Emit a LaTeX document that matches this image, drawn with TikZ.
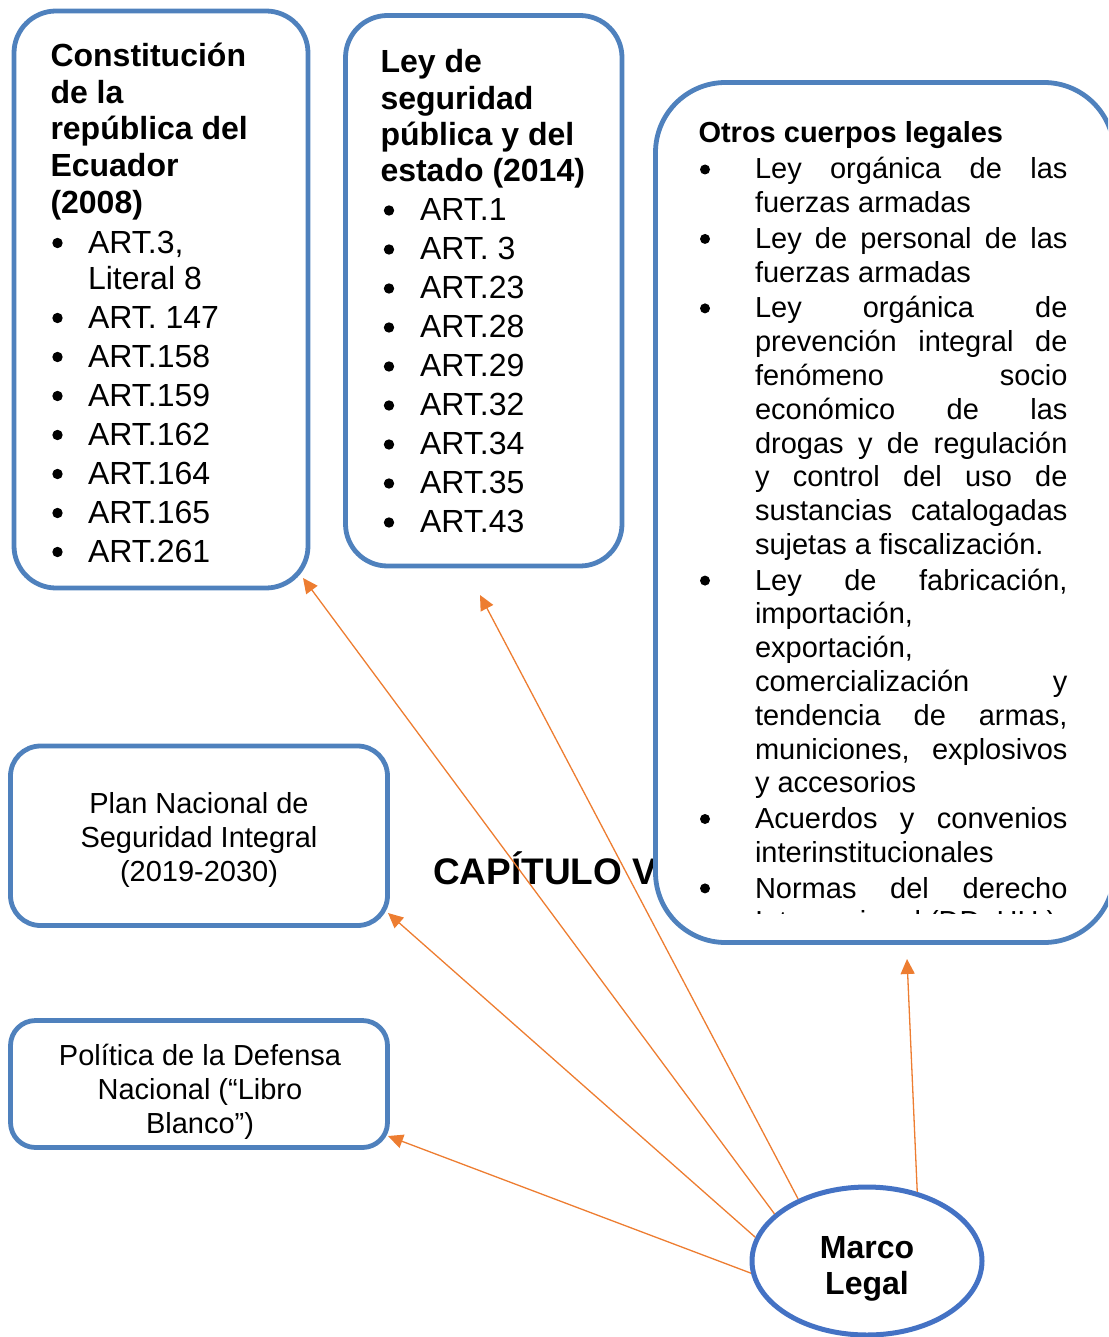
\documentclass[tikz,border=0pt]{standalone}
\usepackage{fontspec}
\setmainfont{Liberation Sans}
\usetikzlibrary{arrows.meta,shapes.geometric}
\definecolor{boxblue}{RGB}{79,129,189}
\definecolor{ellblue}{RGB}{68,114,196}
\definecolor{arrorange}{RGB}{237,125,49}
\newcommand\J[1]{\makebox[312.5pt][s]{#1}}
\tikzset{
  bx/.style={rectangle, draw=boxblue, line width=4.8pt, fill=white, rounded corners=#1, inner sep=0pt, outer sep=0pt},
  txt/.style={inner sep=0pt, outer sep=0pt, anchor=base west},
  ctxt/.style={inner sep=0pt, outer sep=0pt, anchor=base},
  arr/.style={draw=arrorange, line width=1.3pt, -{Triangle[length=15pt,width=14pt]}},
  bul/.style={fill=black},
}
\begin{document}
\begin{tikzpicture}[x=1pt,y=-1pt]
\useasboundingbox (0,0) rectangle (1108,1337);
\clip (0,0) rectangle (1108,1337);

% heading partly hidden
\node[txt] (cap) at (433,884) {\fontsize{37}{42}\selectfont\bfseries CAPÍTULO V};

% boxes
\node[bx=42pt, minimum width=294pt, minimum height=577pt] (cons) at (161,299.5) {};
\node[bx=42pt, minimum width=276.5pt, minimum height=550.5pt] (ley) at (483.75,290.75) {};
\node[bx=70pt, minimum width=458.5pt, minimum height=860pt] (otros) at (884.75,512.5) {};
\node[bx=30pt, minimum width=377pt, minimum height=179.5pt] (plan) at (199,835.75) {};
\node[bx=25pt, minimum width=377pt, minimum height=127pt] (pol) at (199,1084) {};

% Constitucion box text
\node[txt] (consT) at (50.5,66.5) {\parbox[t]{250pt}{\raggedright\fontsize{32}{36.75}\selectfont\bfseries Constitución\\de la\\república del\\Ecuador\\(2008)}};
\node[txt] (consI) at (88,253.5) {\parbox[t]{215pt}{\raggedright\fontsize{32}{36}\selectfont ART.3,\\Literal 8\\[3pt]ART. 147\\[3pt]ART.158\\[3pt]ART.159\\[3pt]ART.162\\[3pt]ART.164\\[3pt]ART.165\\[3pt]ART.261}};
\foreach \b in {253.5,328.5,367.5,406.5,445.5,484.5,523.5,562.5}
  \fill[bul] (57.5,\b-10.5) circle (5.2pt);

% Ley box text
\node[txt] (leyT) at (380.5,73) {\parbox[t]{235pt}{\raggedright\fontsize{32}{36.33}\selectfont\bfseries Ley de\\seguridad\\pública y del\\estado (2014)}};
\node[txt] (leyI) at (420,221) {\parbox[t]{195pt}{\raggedright\fontsize{32}{39}\selectfont ART.1\\ART. 3\\ART.23\\ART.28\\ART.29\\ART.32\\ART.34\\ART.35\\ART.43}};
\foreach \i in {0,...,8}
  \fill[bul] (389,221+39*\i-10.5) circle (5.2pt);

% Otros box text
\node[txt] (otrosT) at (698.5,143) {\fontsize{29}{34}\selectfont\bfseries Otros cuerpos legales};
\begin{scope}
\clip (650,0) rectangle (1120,913);
\node[txt] (otrosI) at (755,179) {\parbox[t]{320pt}{\fontsize{29}{33.8}\selectfont
\J{Ley orgánica de las}\\
fuerzas armadas\\[1.84pt]
\J{Ley de personal de las}\\
fuerzas armadas\\[1.84pt]
\J{Ley orgánica de}\\
\J{prevención integral de}\\
\J{fenómeno socio}\\
\J{económico de las}\\
\J{drogas y de regulación}\\
\J{y control del uso de}\\
\J{sustancias catalogadas}\\
sujetas a fiscalización.\\[1.84pt]
\J{Ley de fabricación,}\\
importación,\\
exportación,\\
\J{comercialización y}\\
\J{tendencia de armas,}\\
\J{municiones, explosivos}\\
y accesorios\\[1.84pt]
\J{Acuerdos y convenios}\\
interinstitucionales\\[1.84pt]
\J{Normas del derecho}\\
Internacional (DD. HH.)}};
\foreach \b in {179,248.44,317.88,590.1,828.5,897.9}
  \fill[bul] (705,\b-9.5) circle (5pt);
\end{scope}

% Plan and Politica text
\node[ctxt] (planT) at (199,813) {\parbox[t]{370pt}{\centering\fontsize{29}{34}\selectfont Plan Nacional de\\Seguridad Integral\\(2019-2030)}};
\node[ctxt] (polT) at (200,1065) {\parbox[t]{370pt}{\centering\fontsize{29}{34}\selectfont Política de la Defensa\\Nacional (“Libro\\Blanco”)}};

% Marco Legal ellipse
\node[ellipse, draw=ellblue, line width=5pt, fill=white, minimum width=230pt, minimum height=148pt, inner sep=0pt] (ml) at (867,1261) {};
\node[ctxt] (mlT) at (867,1258) {\parbox[t]{200pt}{\centering\fontsize{32}{36}\selectfont\bfseries Marco\\Legal}};

% arrow tips
\coordinate (tC) at (303,578);
\coordinate (tL) at (480,595);
\coordinate (tP) at (388,913);
\coordinate (tPo) at (388,1136);
\coordinate (tO) at (907,959);

\draw[arr] (ml.153.4) -- (tC);
\draw[arr] (ml.138.7) -- (tL);
\draw[arr] (ml.168) -- (tP);
\draw[arr] (ml.186.2) -- (tPo);
\draw[arr] (ml.54) -- (tO);
\end{tikzpicture}
\end{document}
